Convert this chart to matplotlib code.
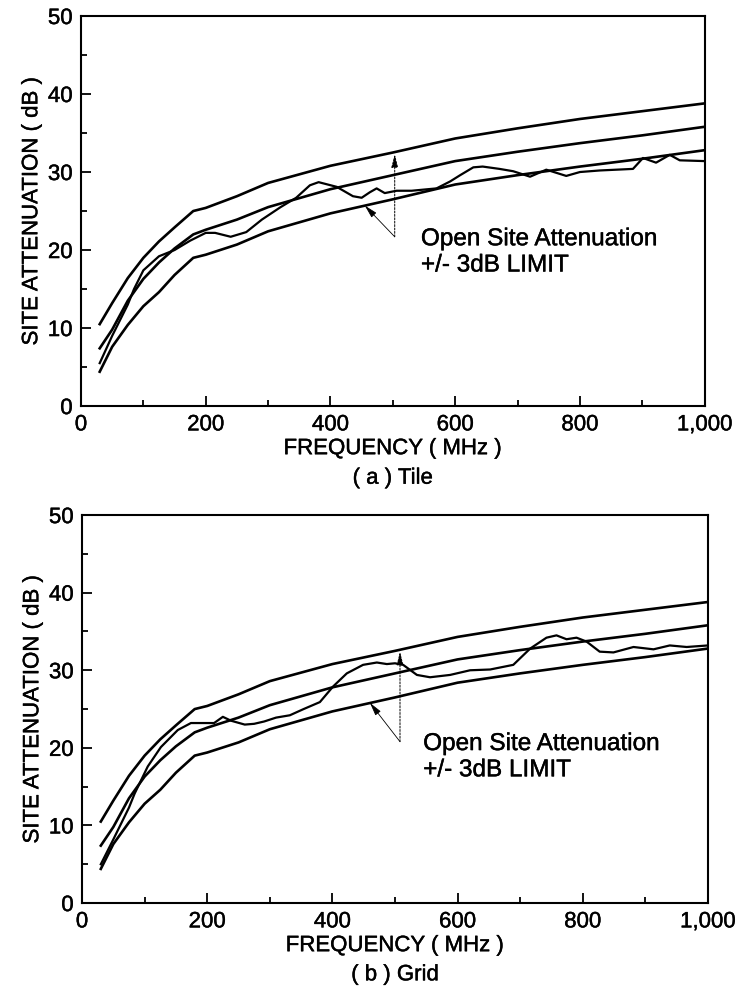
import matplotlib
matplotlib.use("Agg")
import matplotlib.pyplot as plt
import matplotlib.patheffects as pe
from matplotlib.ticker import MultipleLocator, FixedLocator, FixedFormatter

plt.rcParams['font.family'] = ['Liberation Sans', 'DejaVu Sans']

# open site attenuation and the +/- 3 dB limits (same in both panels)
lim_freq = [30, 50, 75, 100, 125, 150, 180, 200, 250, 300, 400, 500, 600, 700, 800, 900, 1000]
osa_upper = [10.5, 13.2, 16.4, 19.0, 21.1, 22.9, 25.0, 25.4, 26.9, 28.6, 30.8, 32.5, 34.3, 35.6, 36.8, 37.8, 38.8]
osa_nominal = [7.4, 9.8, 13.5, 16.3, 18.4, 20.2, 22.0, 22.6, 23.9, 25.5, 27.8, 29.6, 31.4, 32.6, 33.7, 34.7, 35.8]
osa_lower = [4.4, 7.6, 10.4, 12.8, 14.6, 16.8, 19.0, 19.4, 20.7, 22.4, 24.7, 26.5, 28.4, 29.6, 30.7, 31.7, 32.8]

# (a) Tile - measured
tile_freq = [30, 50, 75, 85, 100, 125, 150, 175, 200, 215, 240, 265, 290, 320, 345, 367, 381,
             410, 436, 450, 463, 474, 487, 506, 530, 570, 592, 608, 629, 644, 671, 693, 720,
             746, 778, 800, 832, 885, 901, 922, 944, 960, 1000]
tile_att = [5.5, 9.0, 13.0, 15.0, 17.4, 19.2, 20.0, 21.2, 22.2, 22.2, 21.7, 22.3, 23.9, 25.5, 26.7, 28.3, 28.7,
            28.1, 26.9, 26.7, 27.4, 27.9, 27.3, 27.6, 27.6, 27.9, 28.8, 29.6, 30.6, 30.7, 30.4, 30.1, 29.4,
            30.3, 29.5, 30.0, 30.2, 30.4, 31.8, 31.2, 32.2, 31.5, 31.4]

# (b) Grid - measured
grid_freq = [30, 50, 75, 84, 105, 126, 153, 174, 201, 211, 225, 238, 260, 275, 291, 310, 332, 354,
             380, 401, 423, 449, 471, 487, 500, 513, 535, 556, 588, 620, 652, 689, 716, 742,
             758, 774, 790, 806, 827, 849, 881, 913, 939, 966, 1000]
grid_att = [5.0, 8.2, 12.3, 14.1, 17.6, 20.1, 22.3, 23.2, 23.2, 23.2, 24.0, 23.5, 23.0, 23.1, 23.4, 23.9, 24.2, 25.0,
            25.9, 27.9, 29.6, 30.7, 31.0, 30.8, 30.9, 30.7, 29.4, 29.1, 29.4, 30.0, 30.1, 30.7, 32.8, 34.2,
            34.5, 34.0, 34.2, 33.7, 32.4, 32.3, 33.0, 32.7, 33.2, 33.0, 33.2]

x_ticks = [0, 200, 400, 600, 800, 1000]
x_tick_labels = ['0', '200', '400', '600', '800', '1,000']
note = 'Open Site Attenuation\n+/- 3dB LIMIT'

# scanned print look: thicken the glyphs a little
thick = [pe.withStroke(linewidth=0.3, foreground='black')]

fig = plt.figure(figsize=(7.39, 9.94), dpi=100)
ax_a = fig.add_axes([0.1096, 0.5915, 0.844, 0.3924])
ax_b = fig.add_axes([0.1110, 0.0915, 0.847, 0.3903])

panels = [
    (ax_a, tile_freq, tile_att, '( a ) Tile', (503, 32.3), (455, 25.7), (503, 21.7)),
    (ax_b, grid_freq, grid_att, '( b ) Grid', (508, 32.4), (460, 25.8), (508, 20.8)),
]

for ax, f, att, caption, up_tip, low_tip, tail in panels:
    for y in (osa_upper, osa_nominal, osa_lower):
        ax.plot(lim_freq, y, color='black', lw=1.9, solid_joinstyle='round')
    ax.plot(f, att, color='black', lw=1.6, solid_joinstyle='round')

    ax.annotate('', xy=up_tip, xytext=tail,
                arrowprops=dict(arrowstyle='-|>,head_length=0.8,head_width=0.2',
                                color='black', lw=0.7, ls=(0, (2, 1.5)),
                                shrinkA=0, shrinkB=0))
    ax.annotate('', xy=low_tip, xytext=tail,
                arrowprops=dict(arrowstyle='-|>,head_length=0.8,head_width=0.2',
                                color='black', lw=0.6, shrinkA=0, shrinkB=0))
    ax.text(545, tail[1] - 2.0, note, fontsize=17.5, ha='left', va='center',
            linespacing=1.25, path_effects=thick)

    ax.set_xlim(0, 1000)
    ax.set_ylim(0, 50)
    ax.xaxis.set_major_locator(FixedLocator(x_ticks))
    ax.xaxis.set_major_formatter(FixedFormatter(x_tick_labels))
    ax.xaxis.set_minor_locator(MultipleLocator(100))
    ax.yaxis.set_major_locator(MultipleLocator(10))
    ax.yaxis.set_minor_locator(MultipleLocator(5))
    ax.tick_params(which='both', direction='in', top=False, right=False,
                   width=1.3, labelsize=16)
    ax.tick_params(which='major', length=7, pad=6)
    ax.tick_params(which='minor', length=4)
    for lab in ax.get_xticklabels() + ax.get_yticklabels():
        lab.set_path_effects(thick)
    for s in ax.spines.values():
        s.set_linewidth(1.5)

    ax.set_ylabel('SITE ATTENUATION ( dB )', fontsize=16, labelpad=4,
                  path_effects=thick)
    ax.set_xlabel('FREQUENCY ( MHz )', fontsize=16, labelpad=2,
                  path_effects=thick)
    ax.text(0.5, -0.185, caption, transform=ax.transAxes, fontsize=16,
            ha='center', va='center', path_effects=thick)

fig.savefig('out.png', dpi=100)
